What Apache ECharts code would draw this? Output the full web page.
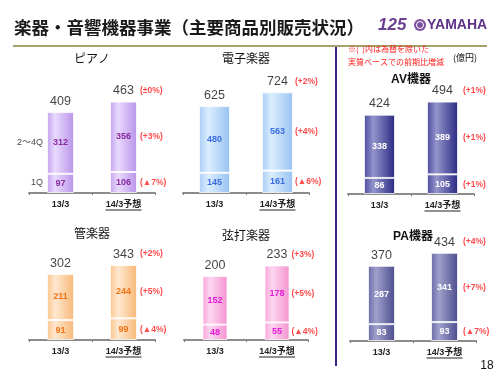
<!DOCTYPE html>
<html>
<head>
<meta charset="utf-8">
<script src="https://cdn.jsdelivr.net/npm/echarts@6/dist/echarts.min.js"></script>
<style>
  html, body { margin: 0; background: #fff; }
  #chart { width: 500px; height: 375px; }
</style>
</head>
<body>
<div id="chart"></div>
<script>
// data (億円)
const categories = ['13/3', '14/3予想']
const quarterLabels = ['1Q', '2〜4Q']
const panelNames = ['ピアノ', '電子楽器', 'AV機器', '管楽器', '弦打楽器', 'PA機器']
const q1Sales = [[97, 106], [145, 161], [86, 105], [91, 99], [48, 55], [83, 93]]
const q2to4Sales = [[312, 356], [480, 563], [338, 389], [211, 244], [152, 178], [287, 341]]
const totalSales = [[409, 463], [625, 724], [424, 494], [302, 343], [200, 233], [370, 434]]
const changeQ1 = ['(▲7%)', '(▲6%)', '(+1%)', '(▲4%)', '(▲4%)', '(▲7%)']
const changeQ2to4 = ['(+3%)', '(+4%)', '(+1%)', '(+5%)', '(+5%)', '(+7%)']
const changeTotal = ['(±0%)', '(+2%)', '(+1%)', '(+2%)', '(+3%)', '(+4%)']

// layout / look of each small chart
const panels = [
  { left: 29, top: 63, width: 126, yMax: 657, barWidth: 27, edge: '#c4a2ee', light: '#e8dafc', dark: '#b993ea', text: '#8a2b9e', titleY: 60, bold: false, gap: 16 },
  { left: 183, top: 63, width: 126, yMax: 935, barWidth: 31, edge: '#a9cdf5', light: '#dbeefe', dark: '#98c2f2', text: '#3a6ee0', titleY: 60, bold: false, gap: 17 },
  { left: 348, top: 64, width: 126, yMax: 695, barWidth: 31, edge: '#4a4aa0', light: '#9494cc', dark: '#2a2a84', text: '#ffffff', titleY: 80, bold: true, gap: 20 },
  { left: 29, top: 210, width: 126, yMax: 594, barWidth: 27, edge: '#fbc58c', light: '#fee8d0', dark: '#f8b878', text: '#f07414', titleY: 235, bold: false, gap: 16 },
  { left: 184, top: 210, width: 124, yMax: 406, barWidth: 25, edge: '#f7a3d8', light: '#fdd6f0', dark: '#f393d0', text: '#e41ed6', titleY: 237, bold: false, gap: 14 },
  { left: 350, top: 211, width: 126, yMax: 640, barWidth: 27, edge: '#6a6aa8', light: '#a0a0cc', dark: '#4c4c8e', text: '#ffffff', titleY: 237, bold: true, gap: 18 },
]
const gridHeight = 130
const FONT = 'Arial, "Liberation Sans", "Noto Sans CJK JP", sans-serif'
const RED = '#ff1a1a'

const grids = []
const xAxes = []
const yAxes = []
const series = []
const graphics = []

function text(x, y, str, style) {
  return {
    type: 'text', x, y, silent: true,
    style: Object.assign({
      text: str, fill: '#111', font: '12px ' + FONT,
      align: 'center', textAlign: 'center', verticalAlign: 'middle', textVerticalAlign: 'middle',
    }, style),
  }
}

panels.forEach((p, i) => {
  grids.push({ left: p.left, top: p.top, width: p.width, height: gridHeight })
  xAxes.push({
    type: 'category', gridIndex: i, data: categories,
    axisLine: { lineStyle: { color: '#8c8c8c', width: 2 } },
    axisTick: { show: true, length: 2, lineStyle: { color: '#777' } },
    axisLabel: { color: '#222', fontSize: 9, fontWeight: 'bold', fontFamily: FONT, margin: 7 },
  })
  yAxes.push({ type: 'value', gridIndex: i, min: 0, max: p.yMax, show: false, splitLine: { show: false } })

  const fill = new echarts.graphic.LinearGradient(0, 0, 1, 0, [
    { offset: 0, color: p.edge }, { offset: 0.3, color: p.light }, { offset: 1, color: p.dark },
  ])
  const barBase = {
    type: 'bar', xAxisIndex: i, yAxisIndex: i, stack: 'p' + i, barWidth: p.barWidth, silent: true,
    itemStyle: { color: fill, borderColor: 'rgba(255,255,255,0.75)', borderWidth: 1 },
    label: { show: true, position: 'inside', color: p.text, fontSize: 9, fontWeight: 'bold', fontFamily: FONT },
  }
  series.push(Object.assign({}, barBase, { name: quarterLabels[0], data: q1Sales[i] }))
  series.push(Object.assign({}, barBase, { name: quarterLabels[1], data: q2to4Sales[i] }))

  const hidden = { type: 'scatter', xAxisIndex: i, yAxisIndex: i, symbolSize: 1, silent: true, itemStyle: { color: 'rgba(0,0,0,0)' } }
  // totals above the bars
  series.push(Object.assign({}, hidden, {
    data: totalSales[i].map((v, k) => [k, v]),
    label: { show: true, position: 'top', distance: 4, color: '#111', fontSize: 12.5, fontFamily: FONT,
      formatter: (o) => String(totalSales[i][o.dataIndex]) },
  }))
  // growth rates beside the forecast bar
  const changes = [changeQ1[i], changeQ2to4[i], changeTotal[i]]
  const q1 = q1Sales[i][1]
  const rest = q2to4Sales[i][1]
  series.push(Object.assign({}, hidden, {
    data: [[1, q1 / 2], [1, q1 + rest / 2], [1, totalSales[i][1]]],
    label: { show: true, position: 'right', distance: p.gap, color: RED, fontSize: 8.5, fontWeight: 'bold', fontFamily: FONT,
      formatter: (o) => changes[o.dataIndex] },
    labelLayout: (o) => (o.dataIndex === 2 ? { dy: -11 } : {}),
  }))
  if (i === 0) {
    const a = q1Sales[i][0]
    const b = q2to4Sales[i][0]
    series.push(Object.assign({}, hidden, {
      data: [[0, a / 2 + 4], [0, a + b / 2]],
      label: { show: true, position: 'left', distance: 17, color: '#111', fontSize: 9, fontFamily: FONT,
        formatter: (o) => quarterLabels[o.dataIndex] },
    }))
  }

  graphics.push(text(p.left + p.width / 2, p.titleY, panelNames[i], {
    font: (p.bold ? 'bold ' : '') + '12px ' + FONT,
  }))
  const ux = p.left + p.width * 0.75
  const uy = p.top + gridHeight + 17
  graphics.push({ type: 'line', silent: true, shape: { x1: ux - 18, y1: uy, x2: ux + 18, y2: uy }, style: { stroke: '#222', lineWidth: 1 } })
})

// slide decoration
graphics.push(text(14, 27, '楽器・音響機器事業（主要商品別販売状況）', {
  font: 'bold 17.5px "Noto Sans CJK JP", sans-serif', align: 'left', textAlign: 'left', fill: '#1a1a1a',
}))
graphics.push({ type: 'rect', silent: true, shape: { x: 13, y: 45, width: 474, height: 2 }, style: { fill: '#a3a36a' } })
graphics.push(text(378, 25, '125', { font: 'italic bold 17px ' + FONT, align: 'left', textAlign: 'left', fill: '#6b3f92' }))
graphics.push({ type: 'circle', silent: true, shape: { cx: 420, cy: 25, r: 6 }, style: { fill: '#7c4f9f' } })
graphics.push({ type: 'circle', silent: true, shape: { cx: 420, cy: 25, r: 3.5 }, style: { fill: 'none', stroke: '#fff', lineWidth: 1 } })
graphics.push(text(427, 25, 'YAMAHA', { font: 'bold 14px "Liberation Sans Narrow", ' + FONT, align: 'left', textAlign: 'left', fill: '#5d3288' }))
graphics.push({ type: 'line', silent: true, shape: { x1: 336, y1: 47, x2: 336, y2: 366 }, style: { stroke: '#3c1e8c', lineWidth: 2 } })
graphics.push(text(348, 49, '※(  )内は為替を除いた', { font: '8px "Noto Sans CJK JP", sans-serif', align: 'left', textAlign: 'left', fill: RED }))
graphics.push(text(348, 62, '実質ベースでの前期比増減', { font: '8px "Noto Sans CJK JP", sans-serif', align: 'left', textAlign: 'left', fill: RED }))
graphics.push(text(465, 58, '(億円)', { font: '9px "Noto Sans CJK JP", sans-serif', fill: '#111' }))
graphics.push(text(487, 366, '18', { font: '12px ' + FONT, fill: '#111' }))

const chart = echarts.init(document.getElementById('chart'), null, { renderer: 'canvas' })
chart.setOption({
  animation: false,
  backgroundColor: '#fff',
  grid: grids,
  xAxis: xAxes,
  yAxis: yAxes,
  series,
  graphic: { elements: graphics },
})
</script>
</body>
</html>
